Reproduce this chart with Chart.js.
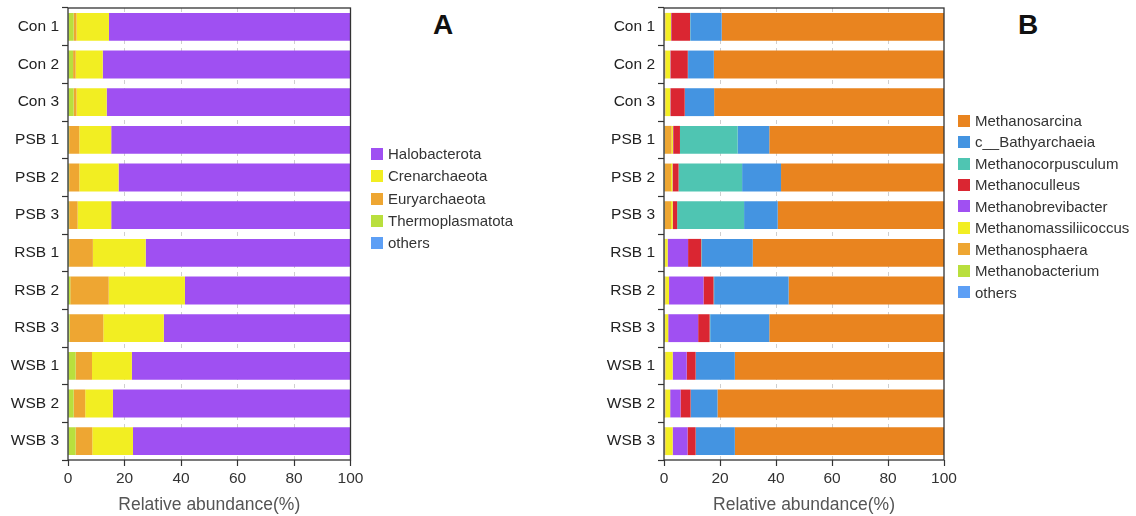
<!DOCTYPE html>
<html>
<head>
<meta charset="utf-8">
<script src="https://cdn.jsdelivr.net/npm/chart.js@4.4.1/dist/chart.umd.min.js"></script>
<style>
  html, body { margin: 0; padding: 0; background: #fff; }
  body { width: 1136px; height: 516px; position: relative; overflow: hidden; font-family: "Liberation Sans", Arial, sans-serif; }
  canvas { position: absolute; top: 0; }
  .panel-tag { position: absolute; font-weight: bold; font-size: 28px; color: #111; line-height: 1; }
  .legend { position: absolute; font-size: 15px; color: #333; }
  .legend div { position: relative; padding-left: 17px; white-space: nowrap; }
  .legend span { position: absolute; left: 0; width: 12px; height: 12px; }
</style>
</head>
<body>
<canvas id="chartA" width="376" height="516" style="left:0px"></canvas>
<canvas id="chartB" width="376" height="516" style="left:596px"></canvas>
<div class="panel-tag" style="left:433px; top:11px">A</div>
<div class="panel-tag" style="left:1018px; top:11px">B</div>
<div class="legend" id="legendA" style="left:371px; top:143px"></div>
<div class="legend" id="legendB" style="left:958px; top:110px"></div>
<script>
// Sample groups, top to bottom
const samples = ['Con 1', 'Con 2', 'Con 3', 'PSB 1', 'PSB 2', 'PSB 3', 'RSB 1', 'RSB 2', 'RSB 3', 'WSB 1', 'WSB 2', 'WSB 3'];
const xTicks = [0, 20, 40, 60, 80, 100];

// Panel A: phylum-level relative abundance (%)
const phylaNames = ['Halobacterota', 'Crenarchaeota', 'Euryarchaeota', 'Thermoplasmatota', 'others'];
const phylaColors = ['#9f50f2', '#f2ee22', '#eea632', '#b9df3d', '#5d9ff5'];
const halobacterota    = [85.5, 87.7, 86.3, 84.7, 82.1, 84.7, 72.5, 58.6, 66.1, 77.4, 84.1, 77.0];
const crenarchaeota    = [11.5, 9.6, 10.7, 11.3, 13.9, 11.9, 18.7, 27.0, 21.4, 14.1, 9.8, 14.4];
const euryarchaeota    = [1.0, 0.9, 1.0, 3.6, 3.6, 3.0, 8.4, 13.6, 11.9, 5.8, 4.1, 5.9];
const thermoplasmatota = [1.9, 1.7, 1.9, 0.3, 0.3, 0.3, 0.3, 0.7, 0.5, 2.6, 1.9, 2.6];
const othersA          = [0.1, 0.1, 0.1, 0.1, 0.1, 0.1, 0.1, 0.1, 0.1, 0.1, 0.1, 0.1];

// Panel B: genus-level relative abundance (%)
const genusNames = ['Methanosarcina', 'c__Bathyarchaeia', 'Methanocorpusculum', 'Methanoculleus', 'Methanobrevibacter',
                    'Methanomassiliicoccus', 'Methanosphaera', 'Methanobacterium', 'others'];
const genusColors = ['#e9841f', '#4494e1', '#4fc5b2', '#da2632', '#a050f2', '#f2ee22', '#eea632', '#b9df3d', '#5d9ff5'];
const methanosarcina        = [79.4, 82.2, 82.1, 62.4, 58.2, 59.4, 68.3, 55.5, 62.4, 74.7, 80.9, 74.7];
const bathyarchaeia         = [11.2, 9.2, 10.4, 11.3, 13.9, 12.0, 18.2, 26.6, 21.1, 13.9, 9.5, 13.9];
const methanocorpusculum    = [0.1, 0.1, 0.1, 20.6, 22.7, 23.9, 0.2, 0.2, 0.2, 0.1, 0.1, 0.1];
const methanoculleus        = [6.7, 6.2, 5.1, 2.4, 2.1, 1.5, 4.7, 3.6, 4.1, 3.2, 3.6, 2.9];
const methanobrevibacter    = [0.1, 0.1, 0.1, 0.1, 0.1, 0.1, 7.3, 12.3, 10.7, 5.0, 3.7, 5.3];
const methanomassiliicoccus = [2.0, 1.7, 1.7, 0.5, 0.5, 0.6, 0.9, 1.3, 1.1, 2.6, 1.7, 2.6];
const methanosphaera        = [0.3, 0.3, 0.3, 2.5, 2.3, 2.3, 0.2, 0.3, 0.2, 0.3, 0.3, 0.3];
const methanobacterium      = [0.1, 0.1, 0.1, 0.1, 0.1, 0.1, 0.1, 0.1, 0.1, 0.1, 0.1, 0.1];
const othersB               = [0.1, 0.1, 0.1, 0.1, 0.1, 0.1, 0.1, 0.1, 0.1, 0.1, 0.1, 0.1];

const phylaValues = [halobacterota, crenarchaeota, euryarchaeota, thermoplasmatota, othersA];
const genusValues = [methanosarcina, bathyarchaeia, methanocorpusculum, methanoculleus, methanobrevibacter,
                     methanomassiliicoccus, methanosphaera, methanobacterium, othersB];

const FONT = '"Liberation Sans", Arial, sans-serif';

// Closed frame around the plotting area
const framePlugin = {
  id: 'frame',
  afterDatasetsDraw(chart) {
    const { ctx, chartArea: a } = chart;
    ctx.save();
    ctx.strokeStyle = '#333';
    ctx.lineWidth = 1.3;
    ctx.strokeRect(a.left, a.top, a.right - a.left, a.bottom - a.top);
    ctx.restore();
  }
};

function buildChart(id, names, colors, values, padRight) {
  // legend order lists the top of the stack first; stacking runs from the last entry outwards
  const datasets = names.map((n, i) => ({
    label: n,
    data: values[i],
    backgroundColor: colors[i],
    borderWidth: 0,
    barPercentage: 0.74,
    categoryPercentage: 1.0
  })).reverse();

  return new Chart(document.getElementById(id), {
    type: 'bar',
    data: { labels: samples, datasets },
    options: {
      indexAxis: 'y',
      responsive: false,
      animation: false,
      devicePixelRatio: 1,
      layout: { padding: { top: 8, right: padRight, left: 0, bottom: 0 } },
      plugins: { legend: { display: false }, tooltip: { enabled: false } },
      scales: {
        x: {
          stacked: true,
          min: 0, max: 100,
          afterBuildTicks(scale) { scale.ticks = xTicks.map(v => ({ value: v })); },
          afterFit(scale) { scale.height = 56; scale.paddingLeft = 0; scale.paddingRight = 0; },
          ticks: { color: '#333', font: { family: FONT, size: 15.5 }, padding: 3, maxRotation: 0 },
          grid: {
            color: (c) => (c.tick && (c.tick.value === 0 || c.tick.value === 100)) ? 'rgba(0,0,0,0)' : '#cfcfcf',
            lineWidth: 1,
            drawTicks: true, tickLength: 6, tickColor: '#333', tickWidth: 1.2
          },
          border: { display: false, dash: [4, 4] },
          title: {
            display: true, text: 'Relative abundance(%)', color: '#555',
            font: { family: FONT, size: 17.5 }, padding: { top: 0, bottom: 0 }
          }
        },
        y: {
          stacked: true,
          afterFit(scale) { scale.width = 68; scale.paddingTop = 0; scale.paddingBottom = 0; },
          ticks: { color: '#222', font: { family: FONT, size: 15.5 }, padding: 3 },
          grid: { drawOnChartArea: false, drawTicks: true, tickLength: 6, tickColor: '#333', tickWidth: 1.2 },
          border: { display: false }
        }
      }
    },
    plugins: [framePlugin]
  });
}

function buildLegend(id, names, colors, rowHeight) {
  const box = document.getElementById(id);
  names.forEach((n, i) => {
    const row = document.createElement('div');
    row.style.height = rowHeight + 'px';
    row.style.lineHeight = rowHeight + 'px';
    const sw = document.createElement('span');
    sw.style.background = colors[i];
    sw.style.top = ((rowHeight - 12) / 2) + 'px';
    row.appendChild(sw);
    row.appendChild(document.createTextNode(n));
    box.appendChild(row);
  });
}

// plot areas end at x = 350.5 (A) and x = 944 (B)
buildChart('chartA', phylaNames, phylaColors, phylaValues, 25.5);
buildChart('chartB', genusNames, genusColors, genusValues, 28);
buildLegend('legendA', phylaNames, phylaColors, 22.25);
buildLegend('legendB', genusNames, genusColors, 21.45);
</script>
</body>
</html>
